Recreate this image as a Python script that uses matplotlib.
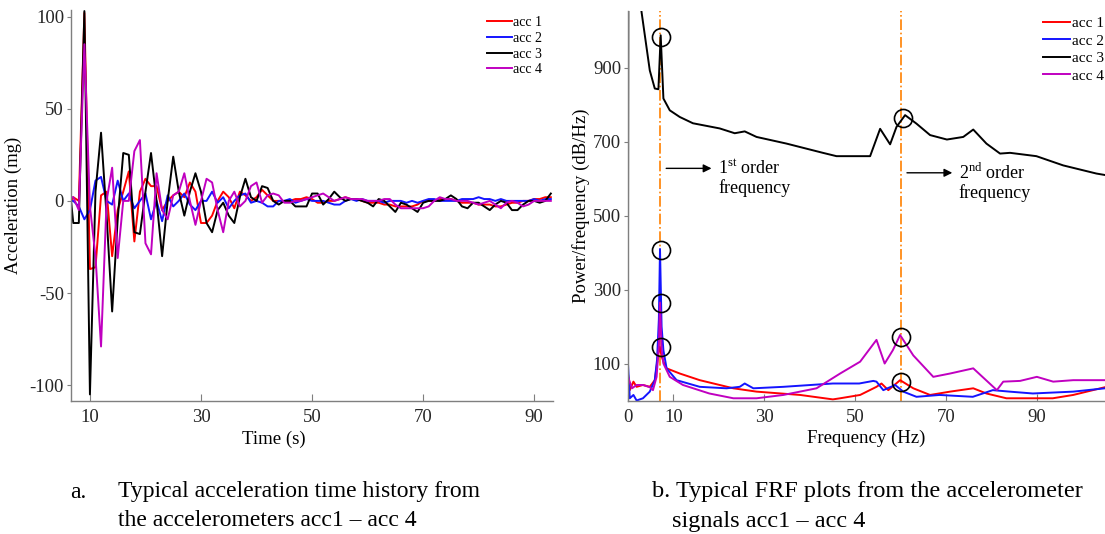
import numpy as np
import matplotlib
matplotlib.use("Agg")
import matplotlib.pyplot as plt

plt.rcParams['font.family'] = ['Liberation Serif', 'DejaVu Serif']
plt.rcParams['mathtext.fontset'] = 'custom'
plt.rcParams['mathtext.rm'] = 'Liberation Serif'
plt.rcParams['axes.unicode_minus'] = False

# ---- (a) acceleration time history, one sample per second ----
time_s = np.concatenate([[6.6], np.arange(7, 94)])

acc1 = [0, 2, 0, 102, -37, -36, 3, 5, -30, -5, 5, 16, -22, 5, 12, 8, 8, -5, 0, 3,
        5, 2, 10, 5, -12, -12, -8, 0, 5, 2, -4, 5, 3, 0, 2, 6, 3, 0, 0, 0,
        0, 1, 1, 2, 1, -1, -1, 0, 0, 1, 2, 1, 1, 0, -1, -1, -1, -2, -2, -3,
        -3, -3, -3, -2, 0, 0, 0, 1, 1, 1, 0, -1, -1, -1, -2, -2, -2, -3, -3, -2,
        -1, -1, 0, 0, 1, 1, 2, 2]
acc2 = [0, 0, -3, -10, -5, 11, 13, 0, -2, 11, 0, 4, -4, 0, 4, -10, 0, -11, 3, -3,
        0, 4, -2, -5, 0, 0, 5, -1, 2, -4, 0, 3, 4, -1, 0, -1, -3, -3, 0, 0,
        1, -1, 0, 1, 0, 0, 0, -1, -2, -2, 0, 1, 0, 1, 0, 0, 0, -1, 0, 0,
        0, -1, 0, -1, 0, 1, 1, 0, 0, 0, 0, 1, 1, 1, 2, 1, 1, 0, 1, 0,
        0, 0, 0, 0, 1, 0, 1, 1]
acc3 = [0, -12, -12, 103, -105, 5, 37, -8, -60, -10, 26, 25, -17, -18, 5, 26, 0, -30, 0, 24,
        5, -8, 5, 15, 5, -12, -17, -5, -1, -8, -12, 2, 12, 2, 0, 8, 7, 0, -2, 0,
        0, -3, -3, -3, 4, 4, -2, 1, 5, 2, 0, 1, 1, 0, -1, -3, 1, 0, -3, -6,
        -1, -2, -4, -6, -1, 0, 0, 0, 1, 3, 1, -3, -4, -1, -1, -3, -5, -2, 0, -1,
        -5, -5, -2, 0, 0, -1, 0, 4]
acc4 = [2, 2, -5, 85, -3, -30, -79, 0, 18, -31, 0, 0, 27, 33, -23, -29, 15, -5, -10, 3,
        5, 15, 0, -13, 0, 12, 10, -5, -17, 0, 5, -3, 0, 8, 10, -1, 3, 4, 3, -1,
        -1, 0, 0, 1, 2, 3, 4, 2, 0, 1, 2, 1, 1, 1, 0, 0, 0, 1, 1, -2,
        -4, -4, -4, -4, -4, -3, 0, 2, 1, 1, 0, 0, 0, -1, -2, -1, 0, -2, -4, -1,
        0, -1, -3, -2, 0, 0, 0, 0]

# ---- (b) FRF curves, digitised knots ----
f_acc1 = [0, 0.4, 1.2, 1.9, 3.3, 4.8, 5.9, 6.7, 7.0, 7.4, 7.8, 8.5, 11.4, 15.8, 23.2, 28.3,
          37.9, 45.1, 46.7, 51.1, 54.7, 55.8, 57.3, 59.9, 62.8, 66.5, 70.9, 76.0, 78.9,
          83.3, 90.7, 93.5, 98.0, 105]
p_acc1 = [73, 28, 51, 37, 42, 37, 55, 128, 145, 120, 105, 87, 73, 55, 33, 24,
          15, 3, 6, 15, 37, 46, 28, 55, 33, 15, 24, 33, 19,
          6, 6, 6, 15, 36]
f_acc2 = [0, 0.4, 1.2, 1.9, 3.3, 4.8, 5.9, 6.4, 6.8, 7.05, 7.4, 7.8, 8.5, 10.7, 15.8, 21.7,
          24.6, 25.7, 27.6, 34.2, 45.1, 50.9, 54.0, 54.7, 56.2, 58.8, 60.6, 63.5, 68.6,
          75.9, 80.3, 84.0, 89.1, 98.0, 105]
p_acc2 = [100, 6, 15, 0, 6, 24, 55, 110, 220, 410, 200, 136, 87, 55, 37, 33,
          37, 46, 33, 37, 46, 46, 53, 51, 28, 42, 24, 10, 15,
          10, 28, 24, 19, 24, 33]
f_acc3 = [0, 0.1, 2.5, 3.0, 4.8, 5.9, 6.7, 7.2, 7.8, 9.2, 11.4, 14.3, 20.2, 23.5, 25.7,
          28.3, 34.9, 42.9, 45.9, 53.3, 55.5, 57.7, 59.1, 61.0, 63.5, 66.5, 70.2, 73.8,
          76.0, 78.9, 81.9, 84.1, 89.9, 95.8, 103.1, 105]
p_acc3 = [320, 1300, 1100, 1050, 893, 844, 842, 988, 817, 785, 767, 750, 736, 723, 728,
          713, 695, 670, 661, 661, 735, 693, 740, 772, 749, 718, 706, 713,
          733, 695, 668, 670, 661, 636, 614, 610]
f_acc4 = [0, 0.9, 1.9, 3.3, 4.8, 5.5, 6.3, 6.8, 7.05, 7.4, 7.8, 9.2, 12.1, 17.9, 23.2,
          28.3, 34.2, 41.5, 46.7, 51.1, 54.7, 56.5, 58.3, 59.9, 62.8, 67.2, 70.9, 76.0,
          80.4, 81.2, 82.6, 86.3, 90.0, 93.6, 98.0, 105]
p_acc4 = [64, 33, 42, 42, 36, 28, 64, 150, 265, 140, 100, 64, 42, 19, 6,
          6, 15, 33, 73, 105, 164, 100, 136, 177, 122, 64, 73, 87,
          37, 28, 51, 53, 64, 51, 55, 55]

peak_f = [7.2, 7.2, 7.2, 7.2, 60.5, 60.2, 60.2]
peak_p = [983, 406, 264, 146, 763, 172, 51]
order_freqs = [7.0, 60.0]

labels = ['acc 1', 'acc 2', 'acc 3', 'acc 4']
colors = ['#ff0000', '#1414ff', '#000000', '#c000c0']

fig = plt.figure(figsize=(11.05, 5.34), dpi=100)
axA = fig.add_axes([0.0643, 0.249, 0.4362, 0.732])
axB = fig.add_axes([0.5683, 0.250, 0.4317, 0.7303])

# panel a
for y, c, lab in zip([acc1, acc2, acc3, acc4], colors, labels):
    axA.plot(time_s, y, color=c, lw=1.4, label=lab)
axA.set_xlim(6.6, 93.4)
axA.set_ylim(-108.6, 103.5)
axA.set_xticks([10, 30, 50, 70, 90])
axA.set_yticks([100, 50, 0, -50, -100])
axA.set_xlabel('Time (s)', fontsize=13.5)
axA.set_ylabel('Acceleration (mg)', fontsize=13.5)
axA.xaxis.set_label_coords(0.42, -0.075)
axA.yaxis.set_label_coords(-0.102, 0.5)
axA.legend(loc='upper left', bbox_to_anchor=(0.863, 0.985), frameon=False, fontsize=10,
           handlelength=1.8, handletextpad=0.1, labelspacing=0.2, borderpad=0, borderaxespad=0)

# panel b
for f, p, c, lab in zip([f_acc1, f_acc2, f_acc3, f_acc4], [p_acc1, p_acc2, p_acc3, p_acc4], colors, labels):
    axB.plot(f, p, color=c, lw=1.4, label=lab)
for fo in order_freqs:
    axB.axvline(fo, color='#ff8000', ls='-.', lw=1.2, zorder=1)
axB.plot(peak_f, peak_p, 'o', mfc='none', mec='k', ms=13, mew=1.2)
axB.set_xlim(0, 105)
axB.set_ylim(0, 1055)
axB.set_xticks([0, 10, 30, 50, 70, 90])
axB.set_yticks([100, 300, 500, 700, 900])
axB.set_xlabel('Frequency (Hz)', fontsize=13.5)
axB.set_ylabel('Power/frequency (dB/Hz)', fontsize=13.5)
axB.xaxis.set_label_coords(0.5, -0.075)
axB.yaxis.set_label_coords(-0.08, 0.5)
axB.legend(loc='upper left', bbox_to_anchor=(0.870, 0.985), frameon=False, fontsize=11,
           handlelength=1.8, handletextpad=0.1, labelspacing=0.25, borderpad=0, borderaxespad=0)

arrow = dict(arrowstyle='-|>', color='k', lw=1, mutation_scale=12)
axB.annotate('', xy=(19.0, 628), xytext=(7.8, 628), arrowprops=arrow)
axB.text(19.8, 628, '1$^{\\mathrm{st}}$ order', fontsize=13, va='center')
axB.text(19.8, 574, 'frequency', fontsize=13, va='center')
axB.annotate('', xy=(72.0, 616), xytext=(60.8, 616), arrowprops=arrow)
axB.text(72.8, 616, '2$^{\\mathrm{nd}}$ order', fontsize=13, va='center')
axB.text(72.8, 562, 'frequency', fontsize=13, va='center')

for ax in (axA, axB):
    for s in ('top', 'right'):
        ax.spines[s].set_visible(False)
    for s in ('left', 'bottom'):
        ax.spines[s].set_color('#7f7f7f')
        ax.spines[s].set_linewidth(1.0)
    ax.tick_params(axis='x', direction='in', length=5, color='#7f7f7f', labelsize=13.5,
                   labelcolor='#262626', pad=6)
    ax.tick_params(axis='y', direction='out', length=3, color='#7f7f7f', labelsize=13.5,
                   labelcolor='#262626', pad=2)

# captions
fig.text(70 / 1105, 1 - 492 / 534, 'a.', fontsize=17, va='center')
fig.text(118 / 1105, 1 - 492 / 534, 'Typical acceleration time history from', fontsize=17, va='center')
fig.text(118 / 1105, 1 - 521 / 534, 'the accelerometers acc1 \u2013 acc 4', fontsize=17, va='center')
fig.text(652 / 1105, 1 - 492 / 534, 'b. Typical FRF plots from the accelerometer', fontsize=17.5, va='center')
fig.text(672 / 1105, 1 - 521 / 534, 'signals acc1 \u2013 acc 4', fontsize=17.5, va='center')

fig.savefig('out.png', dpi=100)
